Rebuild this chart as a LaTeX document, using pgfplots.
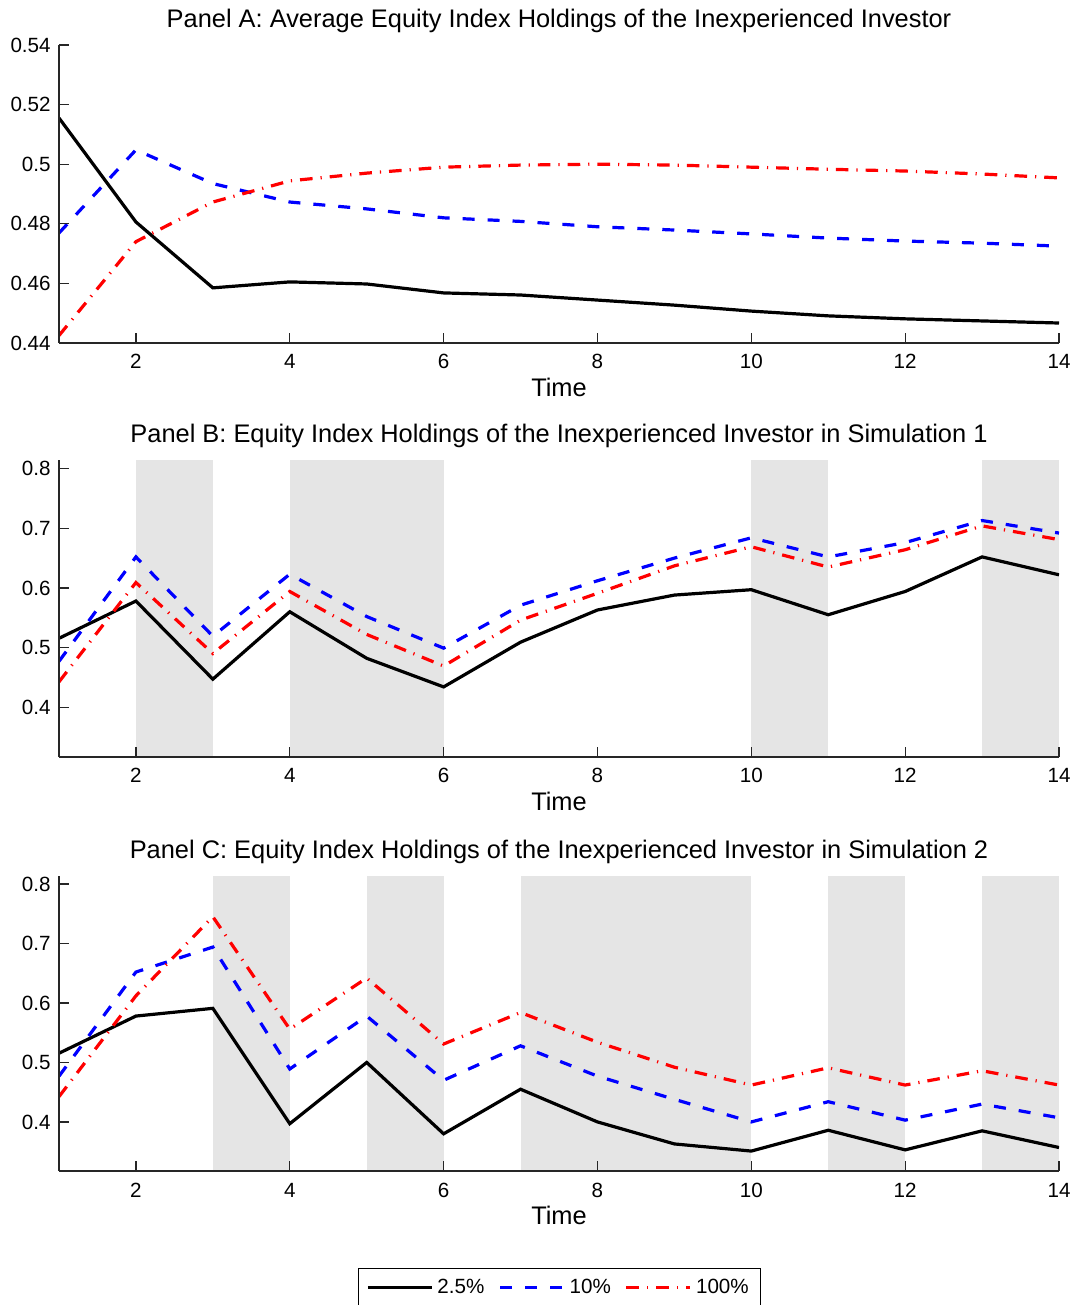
\documentclass[border=0pt]{standalone}
\usepackage{fontspec}
\setmainfont{Liberation Sans}
\usepackage{pgfplots}
\pgfplotsset{compat=1.18}
\definecolor{shade}{RGB}{229,229,229}
\definecolor{axgray}{RGB}{38,38,38}
\pgfplotsset{
 panel/.style={
  scale only axis, width=500pt,
  xmin=1, xmax=14, xtick={2,4,6,8,10,12,14},
  axis lines*=left, tick align=inside, major tick length=5pt,
  axis line style={axgray, line width=0.6pt},
  tick style={axgray, line width=0.6pt},
  /pgf/number format/assume math mode=true,
  tick label style={font=\fontsize{10.3}{12}\selectfont, text=black},
  xticklabel style={anchor=base, inner sep=0pt, yshift=-13pt},
  yticklabel style={anchor=east, inner sep=0pt, xshift=-4pt},
  xlabel=Time,
  xlabel style={font=\fontsize{12.7}{15}\selectfont, at={(0.5,0)}, anchor=base, yshift=-27pt},
  title style={font=\fontsize{12.7}{15}\selectfont, at={(0.5,1)}, anchor=base, yshift=2.5pt},
  axis on top,
 },
 l1/.style={black, line width=1.6pt, solid},
 l2/.style={blue, line width=1.6pt, dash pattern=on 6pt off 6.5pt},
 l3/.style={red, line width=1.6pt, dash pattern=on 6.3pt off 4pt on 0.6pt off 4pt},
 sh/.style={fill=shade, draw=none, forget plot},
}
\begin{document}
\begin{tikzpicture}
\useasboundingbox (0,0) rectangle (539pt,652.5pt);
% Panel A
\begin{axis}[panel, at={(29.5pt,481pt)}, anchor=south west, height=149pt,
  ymin=0.44, ymax=0.54, ytick={0.44,0.46,0.48,0.5,0.52,0.54},
  title={Panel A: Average Equity Index Holdings of the Inexperienced Investor}]
\addplot[l1] coordinates {(1,0.5155) (2,0.4806) (3,0.4585) (4,0.4605) (5,0.4598) (6,0.4568) (7,0.4561) (8,0.4544) (9,0.4527) (10,0.4507) (11,0.4491) (12,0.4481) (13,0.4474) (14,0.4467)};
\addplot[l2] coordinates {(1,0.4769) (2,0.5048) (3,0.4935) (4,0.4873) (5,0.4850) (6,0.4820) (7,0.4808) (8,0.4790) (9,0.4779) (10,0.4766) (11,0.4752) (12,0.4742) (13,0.4735) (14,0.4725)};
\addplot[l3] coordinates {(1,0.4425) (2,0.4740) (3,0.4873) (4,0.4944) (5,0.4970) (6,0.4990) (7,0.4997) (8,0.5000) (9,0.4997) (10,0.4990) (11,0.4983) (12,0.4977) (13,0.4967) (14,0.4954)};
\end{axis}
% Panel B
\begin{axis}[panel, at={(29.5pt,274pt)}, anchor=south west, height=148.5pt,
  ymin=0.3165, ymax=0.8145, ytick={0.4,0.5,0.6,0.7,0.8},
  title={Panel B: Equity Index Holdings of the Inexperienced Investor in Simulation 1}]
\addplot[sh] coordinates {(2,0.3165) (2,0.8145) (3,0.8145) (3,0.3165)};
\addplot[sh] coordinates {(4,0.3165) (4,0.8145) (6,0.8145) (6,0.3165)};
\addplot[sh] coordinates {(10,0.3165) (10,0.8145) (11,0.8145) (11,0.3165)};
\addplot[sh] coordinates {(13,0.3165) (13,0.8145) (14,0.8145) (14,0.3165)};
\addplot[l1] coordinates {(1,0.5155) (2,0.578) (3,0.447) (4,0.560) (5,0.482) (6,0.434) (7,0.509) (8,0.563) (9,0.588) (10,0.597) (11,0.555) (12,0.594) (13,0.652) (14,0.622)};
\addplot[l2] coordinates {(1,0.4769) (2,0.652) (3,0.519) (4,0.623) (5,0.552) (6,0.499) (7,0.571) (8,0.612) (9,0.650) (10,0.684) (11,0.652) (12,0.676) (13,0.713) (14,0.692)};
\addplot[l3] coordinates {(1,0.4425) (2,0.609) (3,0.490) (4,0.594) (5,0.522) (6,0.469) (7,0.546) (8,0.591) (9,0.637) (10,0.669) (11,0.635) (12,0.664) (13,0.704) (14,0.681)};
\end{axis}
% Panel C
\begin{axis}[panel, at={(29.5pt,67pt)}, anchor=south west, height=147.5pt,
  ymin=0.3175, ymax=0.8135, ytick={0.4,0.5,0.6,0.7,0.8},
  title={Panel C: Equity Index Holdings of the Inexperienced Investor in Simulation 2},
  legend style={at={(0.5005,-0.329)}, anchor=north, legend columns=-1, draw=black, line width=0.6pt, fill=white,
    font=\fontsize{10.3}{12}\selectfont, inner xsep=4pt, inner ysep=3pt,
    /tikz/every even column/.append style={column sep=5pt}},
  legend image code/.code={\draw[#1] (0pt,0pt) -- (32pt,0pt);}]
\addplot[sh] coordinates {(3,0.3175) (3,0.8135) (4,0.8135) (4,0.3175)};
\addplot[sh] coordinates {(5,0.3175) (5,0.8135) (6,0.8135) (6,0.3175)};
\addplot[sh] coordinates {(7,0.3175) (7,0.8135) (10,0.8135) (10,0.3175)};
\addplot[sh] coordinates {(11,0.3175) (11,0.8135) (12,0.8135) (12,0.3175)};
\addplot[sh] coordinates {(13,0.3175) (13,0.8135) (14,0.8135) (14,0.3175)};
\addplot[l1] coordinates {(1,0.5155) (2,0.578) (3,0.591) (4,0.397) (5,0.500) (6,0.380) (7,0.455) (8,0.400) (9,0.363) (10,0.351) (11,0.386) (12,0.353) (13,0.385) (14,0.357)};
\addplot[l2] coordinates {(1,0.4769) (2,0.652) (3,0.694) (4,0.489) (5,0.578) (6,0.470) (7,0.528) (8,0.477) (9,0.438) (10,0.400) (11,0.434) (12,0.403) (13,0.430) (14,0.407)};
\addplot[l3] coordinates {(1,0.4425) (2,0.612) (3,0.745) (4,0.556) (5,0.642) (6,0.531) (7,0.584) (8,0.534) (9,0.492) (10,0.462) (11,0.491) (12,0.462) (13,0.486) (14,0.462)};
\legend{2.5\%, 10\%, 100\%}
\end{axis}
\end{tikzpicture}
\end{document}
